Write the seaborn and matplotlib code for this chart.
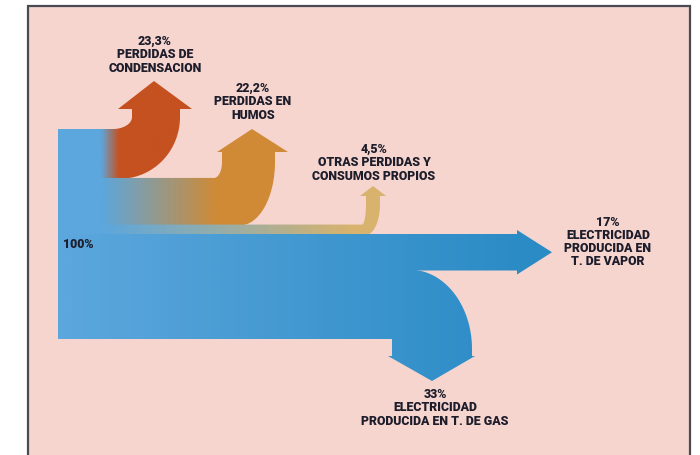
import numpy as np
import matplotlib
matplotlib.use('Agg')
import matplotlib.pyplot as plt
from matplotlib.path import Path
from matplotlib.patches import PathPatch, Rectangle
import seaborn as sns

# data: energy balance of the plant (% of input)
input_label = '100%'
pcts = [23.3, 22.2, 4.5, 17, 33]
pct_labels = ['23,3%', '22,2%', '4,5%', '17%', '33%']
names = ['PERDIDAS DE\nCONDENSACION',
         'PERDIDAS EN\nHUMOS',
         'OTRAS PERDIDAS Y\nCONSUMOS PROPIOS',
         'ELECTRICIDAD\nPRODUCIDA EN\nT. DE VAPOR',
         'ELECTRICIDAD\nPRODUCIDA EN T. DE GAS']
kinds = ['up', 'up', 'up', 'right', 'down']

# styles
flow_colors = ['#c4511f', '#d08a36', '#d8b36e', '#2b8bc5', '#2b8bc5']
blue_left = '#5ca7dd'
bg = '#f6d5cf'
txt_color = '#1d1d2b'

sns.set_theme(style='white')
plt.rcParams['font.family'] = ['Roboto', 'Liberation Sans', 'DejaVu Sans']

# layout (pixel-like data coords)
x_start, y_start, total_h = 58, 130, 210
layout = [
    dict(xi=113, sl=132, yc=118, hb=110, hl=118, hr=192, tip=(154, 82), sr=180, xo=120, g=(100, 118)),
    dict(xi=214, sl=222, yc=163, hb=153, hl=217, hr=288, tip=(252, 130), sr=275, xo=240, g=(100, 215)),
    dict(xi=362, sl=366, yc=205, hb=197, hl=360, hr=386, tip=(373, 187), sr=380, xo=366, g=(100, 350)),
    dict(hx=517, m=4, tip=552, g=(58, 520)),
    dict(xo=410, sr=472, yc=350, hb=357, hl=388, hr=475, tip=(432, 382), sl=392, g=(58, 520)),
]
label_pos = [(155, 55), (253, 102), (374, 163), (608, 242), (435, 408)]

fig = plt.figure(figsize=(7, 4.56), dpi=100)
fig.patch.set_facecolor('white')
ax = fig.add_axes([0, 0, 1, 1])
ax.set_xlim(0, 700)
ax.set_ylim(456, 0)
ax.axis('off')

ax.add_patch(Rectangle((28, 7), 662, 460, facecolor=bg, edgecolor='#4a4a55', lw=1.6, zorder=0))


def arc(cx, cy, rx, ry, t0, t1, n=40):
    t = np.linspace(t0, t1, n)
    return list(zip(cx + rx * np.sin(t), cy + ry * np.cos(t)))


def up_branch(yt, yb, L):
    pts = [(x_start, yt), (L['xi'], yt)]
    pts += arc(L['xi'], L['yc'], L['sl'] - L['xi'], yt - L['yc'], 0, np.pi / 2)
    pts += [(L['sl'], L['hb']), (L['hl'], L['hb']), L['tip'], (L['hr'], L['hb']), (L['sr'], L['hb'])]
    pts += arc(L['xo'], L['yc'], L['sr'] - L['xo'], yb - L['yc'], np.pi / 2, 0)
    pts += [(x_start, yb)]
    return pts


def right_branch(yt, yb, L):
    mid = (yt + yb) / 2
    return [(x_start, yt), (L['hx'], yt), (L['hx'], yt - L['m']), (L['tip'], mid),
            (L['hx'], yb + L['m']), (L['hx'], yb), (x_start, yb)]


def down_branch(yt, yb, L):
    pts = [(x_start, yt), (L['xo'], yt)]
    pts += arc(L['xo'], L['yc'], L['sr'] - L['xo'], -(L['yc'] - yt), 0, np.pi / 2)
    pts += [(L['sr'], L['hb']), (L['hr'], L['hb']), L['tip'], (L['hl'], L['hb']),
            (L['sl'], L['hb']), (L['sl'], yb), (x_start, yb)]
    return pts


builders = {'up': up_branch, 'right': right_branch, 'down': down_branch}

edges = y_start + np.concatenate([[0], np.cumsum(pcts)]) / 100 * total_h
for i, (p, kind, col, L) in enumerate(zip(pcts, kinds, flow_colors, layout)):
    yt, yb = edges[i], edges[i + 1]
    ov = 0.8 if i < len(pcts) - 1 else 0
    pts = builders[kind](yt, yb + ov, L)
    path = Path(pts + [pts[0]], closed=True)
    patch = PathPatch(path, facecolor='none', edgecolor='none', zorder=2)
    ax.add_patch(patch)
    # horizontal colour fade from the blue input to the branch colour
    g0, g1 = L['g']
    x_end = 700
    n = 300
    xs = np.linspace(x_start, x_end, n)
    ramp = sns.blend_palette([blue_left, col], n_colors=64)
    frac = np.clip((xs - g0) / (g1 - g0), 0, 1)
    grad = np.array([ramp[int(f * 63)] for f in frac])[None, :, :]
    im = ax.imshow(grad, extent=(x_start, x_end, 456, 0), aspect='auto',
                   interpolation='bilinear', zorder=2)
    im.set_clip_path(patch)

ax.set_xlim(0, 700)
ax.set_ylim(456, 0)

for (x, y), pl, nm in zip(label_pos, pct_labels, names):
    ax.text(x, y, pl + '\n' + nm, ha='center', va='center', multialignment='center',
            fontsize=8.9, fontweight='black', color=txt_color, linespacing=1.02, zorder=5)

ax.text(63, 245, input_label, ha='left', va='center', fontsize=8.9,
        fontweight='black', color=txt_color, zorder=5)

fig.savefig('out.png', dpi=100, facecolor='white')
